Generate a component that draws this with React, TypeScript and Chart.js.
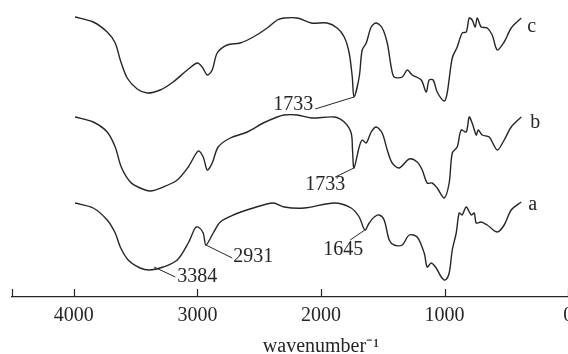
import React, { useEffect, useRef } from "react";
import { Chart, registerables } from "chart.js";

Chart.register(...registerables);

// ---- Data (wavenumber, relative transmittance with vertical offsets) ----
const WN_C = [3990, 3843, 3730, 3665, 3624, 3568, 3487, 3406, 3301, 3196, 3082, 3001, 2961, 2920, 2880, 2840, 2759, 2654, 2548, 2435, 2354, 2298, 2192, 2079, 1950, 1869, 1812, 1772, 1747, 1733, 1691, 1667, 1634, 1594, 1553, 1505, 1464, 1432, 1408, 1343, 1302, 1262, 1189, 1149, 1125, 1092, 1060, 1003, 979, 938, 898, 858, 825, 801, 777, 752, 736, 704, 655, 615, 574, 518, 461, 380];
const T_C = [280, 275, 265, 254, 237, 219, 208, 204, 207, 215, 227, 234, 230, 222, 227, 244, 252, 254, 260, 269, 277, 279, 279, 274, 274, 269, 260, 244, 220, 200, 220, 247, 254, 270, 274, 269, 254, 230, 220, 220, 227, 222, 217, 205, 217, 217, 205, 196, 204, 239, 250, 264, 265, 279, 277, 270, 279, 270, 269, 262, 247, 255, 269, 279];

const WN_B = [3990, 3843, 3730, 3665, 3616, 3543, 3463, 3382, 3276, 3163, 3074, 2993, 2953, 2920, 2880, 2832, 2734, 2597, 2467, 2354, 2298, 2192, 2079, 1893, 1812, 1756, 1745, 1733, 1691, 1667, 1634, 1594, 1553, 1505, 1464, 1424, 1367, 1286, 1222, 1181, 1141, 1100, 1060, 1003, 963, 938, 898, 866, 825, 801, 777, 744, 728, 696, 639, 574, 518, 461, 380];
const T_B = [180, 175, 165, 150, 130, 115, 109, 106, 110, 117, 130, 146, 140, 127, 134, 150, 159, 165, 174, 180, 182, 182, 179, 180, 175, 164, 147, 129, 150, 157, 154, 165, 170, 164, 147, 134, 129, 138, 135, 127, 114, 114, 109, 99, 114, 144, 150, 167, 165, 180, 174, 162, 167, 162, 160, 147, 157, 170, 180];

const WN_A = [3990, 3843, 3730, 3665, 3624, 3560, 3463, 3384, 3276, 3163, 3074, 3018, 2993, 2953, 2931, 2872, 2815, 2710, 2548, 2387, 2298, 2136, 1893, 1756, 1691, 1645, 1610, 1569, 1529, 1489, 1448, 1408, 1343, 1286, 1222, 1165, 1141, 1108, 1068, 1027, 995, 963, 938, 906, 882, 858, 825, 785, 760, 744, 704, 655, 574, 518, 461, 380];
const T_A = [94, 89, 77, 64, 50, 37, 29, 27, 30, 37, 54, 69, 70, 64, 52, 64, 75, 82, 89, 94, 90, 89, 94, 89, 80, 67, 74, 80, 82, 77, 57, 52, 52, 62, 60, 44, 30, 34, 29, 20, 17, 24, 47, 64, 84, 82, 90, 82, 84, 74, 75, 72, 65, 72, 87, 95];

const X_TICKS = [4500, 4000, 3000, 2000, 1000, 0, -500];
const X_LABELED = [4000, 3000, 2000, 1000, 0];
const X_TITLE = "wavenumber\u207B\u00B9";

const SERIES_NAMES = ["a", "b", "c"];
// label anchor: wavenumber and value where curve name is written
const NAME_WN = [324, 307, 332];
const NAME_T = [92, 174, 270];

// peak annotations: text, curve point, leader end, text anchor
const ANN_TEXT = ["1733", "1733", "3384", "2931", "1645"];
const ANN_PT_WN = [1733, 1733, 3350, 2931, 1645];
const ANN_PT_T = [200, 129, 30, 52, 67];
const ANN_END_WN = [2047, 1885, 3179, 2718, 1764];
const ANN_END_T = [188, 120, 20, 39, 57];
const ANN_TXT_WN = [2063, 1966, 3163, 2710, 1820];
const ANN_TXT_T = [192, 112, 20, 40, 47];
const ANN_ALIGN = ["right", "center", "left", "left", "center"];

const INK = "#262626";
const FONT_FAMILY = '"Liberation Serif", "Times New Roman", serif';

const overlayPlugin = {
  id: "overlay",
  afterDatasetsDraw(chart: any) {
    const { ctx, scales } = chart;
    const x = scales.x;
    const y = scales.y;
    ctx.save();
    ctx.strokeStyle = INK;
    ctx.fillStyle = INK;
    ctx.lineWidth = 1;
    ctx.font = `20px ${FONT_FAMILY}`;
    ctx.textBaseline = "middle";
    for (let i = 0; i < ANN_TEXT.length; i++) {
      ctx.beginPath();
      ctx.moveTo(x.getPixelForValue(ANN_PT_WN[i]), y.getPixelForValue(ANN_PT_T[i]));
      ctx.lineTo(x.getPixelForValue(ANN_END_WN[i]), y.getPixelForValue(ANN_END_T[i]));
      ctx.stroke();
      ctx.textAlign = ANN_ALIGN[i] as CanvasTextAlign;
      ctx.fillText(ANN_TEXT[i], x.getPixelForValue(ANN_TXT_WN[i]), y.getPixelForValue(ANN_TXT_T[i]));
    }
    ctx.textAlign = "left";
    for (let i = 0; i < SERIES_NAMES.length; i++) {
      ctx.fillText(SERIES_NAMES[i], x.getPixelForValue(NAME_WN[i]), y.getPixelForValue(NAME_T[i]));
    }
    // upward tick marks on the axis
    const bottom = chart.chartArea.bottom;
    ctx.lineWidth = 1.2;
    for (const t of x.ticks) {
      const px = Math.round(x.getPixelForValue(t.value)) + 0.5;
      ctx.beginPath();
      ctx.moveTo(px, bottom);
      ctx.lineTo(px, bottom - 8);
      ctx.stroke();
    }
    ctx.restore();
  },
};

function toPoints(wn: number[], t: number[]) {
  return wn.map((v, i) => ({ x: v, y: t[i] }));
}

export default function App() {
  const ref = useRef<HTMLCanvasElement | null>(null);
  useEffect(() => {
    if (!ref.current) return;
    const ds = (wn: number[], t: number[]) => ({
      data: toPoints(wn, t),
      borderColor: INK,
      borderWidth: 1.4,
      pointRadius: 0,
      tension: 0.3,
      fill: false,
      borderJoinStyle: "round" as const,
    });
    const chart = new Chart(ref.current, {
      type: "line",
      data: {
        datasets: [ds(WN_A, T_A), ds(WN_B, T_B), ds(WN_C, T_C)],
      },
      options: {
        animation: false,
        responsive: true,
        maintainAspectRatio: false,
        layout: { padding: { left: 12, right: 20, top: 0, bottom: 0 } },
        plugins: { legend: { display: false }, tooltip: { enabled: false } },
        scales: {
          x: {
            type: "linear",
            reverse: true,
            min: -500,
            max: 4500,
            afterBuildTicks: (scale: any) => {
              scale.ticks = X_TICKS.map((v) => ({ value: v }));
            },
            grid: { display: false, drawTicks: false },
            border: { display: true, color: INK, width: 1.2 },
            ticks: {
              autoSkip: false,
              maxRotation: 0,
              padding: 7,
              color: INK,
              font: { family: FONT_FAMILY, size: 20 },
              callback: (v: any) => (X_LABELED.includes(Number(v)) ? String(v) : ""),
            },
            title: {
              display: true,
              text: X_TITLE,
              color: INK,
              padding: { top: 0, bottom: 0 },
              font: { family: FONT_FAMILY, size: 20 },
            },
          },
          y: { display: false, min: 0, max: 297 },
        },
      },
      plugins: [overlayPlugin],
    });
    return () => chart.destroy();
  }, []);
  return (
    <div style={{ position: "fixed", left: 0, top: 0, width: 568, height: 354, overflow: "hidden", background: "#fff" }}>
      <div style={{ position: "relative", width: 650, height: 359 }}>
        <canvas ref={ref} />
      </div>
    </div>
  );
}
